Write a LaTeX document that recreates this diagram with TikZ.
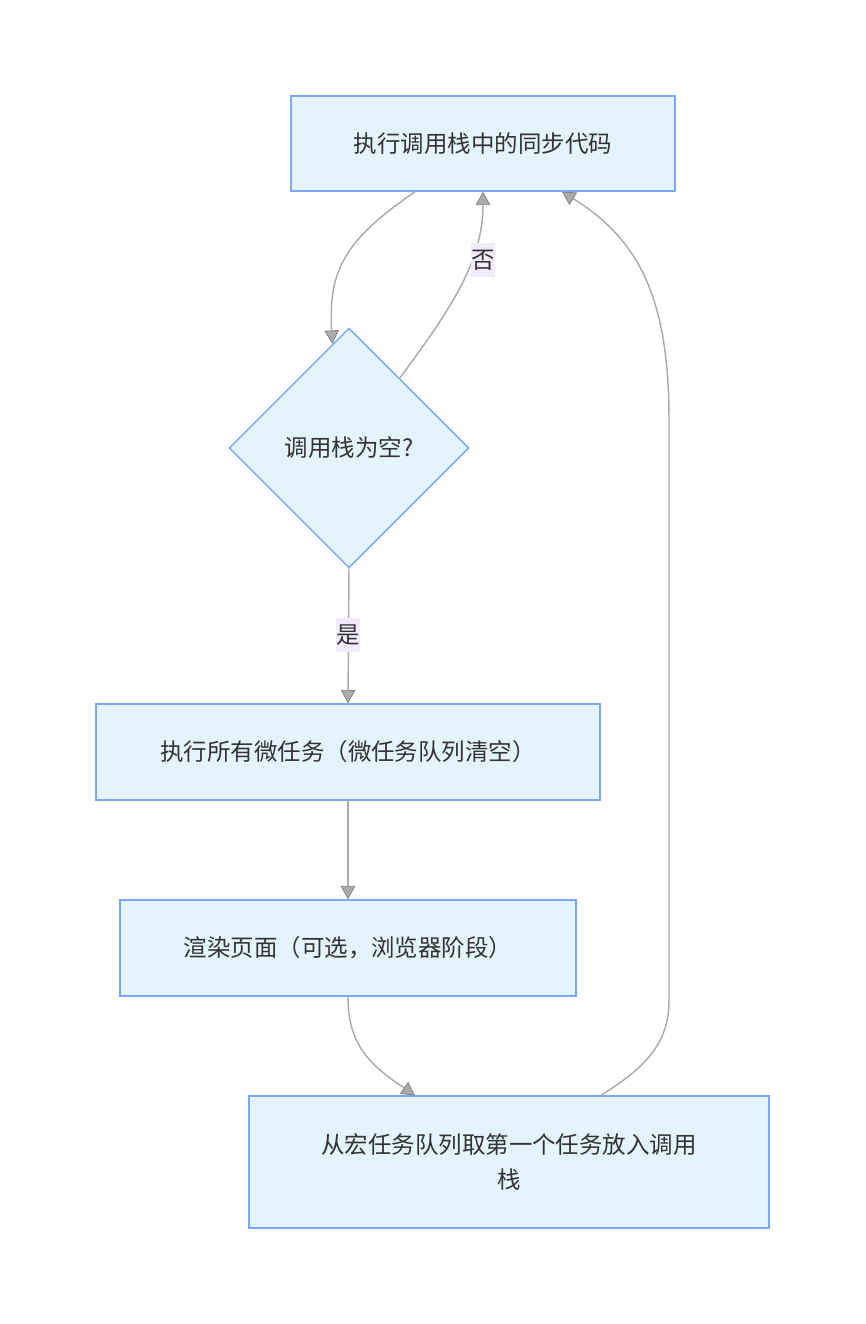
\documentclass[tikz,border=0pt]{standalone}
\usepackage{fontspec}
\setmainfont{Noto Sans CJK SC}
\usetikzlibrary{shapes.geometric,arrows.meta}
\definecolor{boxfill}{HTML}{E3F4FD}
\definecolor{boxline}{HTML}{7BA8F4}
\definecolor{lblfill}{HTML}{F1EBFB}
\definecolor{txt}{HTML}{333333}
\colorlet{edge}{black!33}

\begin{document}
\begin{tikzpicture}[x=0.75pt,y=-0.75pt,
    box/.style={draw=boxline,fill=boxfill,line width=1.1pt,text=txt,
        font=\fontsize{17.6pt}{26pt}\selectfont,inner sep=0pt,align=center},
    lbl/.style={fill=lblfill,text=txt,font=\fontsize{17.6pt}{22pt}\selectfont,
        inner xsep=0.5pt,inner ysep=5pt},
    flow/.style={draw=edge,line width=1.1pt,
        -{Triangle[length=10pt,width=11pt,color=black!48,fill=black!33,line width=0.6pt]}}]
  \useasboundingbox (0,0) rectangle (865,1324);

  \node[box,minimum width=288pt,minimum height=71.25pt] (sync) at (483,143.5) {执行调用栈中的同步代码};
  \node[box,diamond,shape aspect=1,minimum width=180pt,minimum height=180pt] (empty) at (349,448) {调用栈为空?};
  \node[box,minimum width=378pt,minimum height=72pt] (micro) at (348,752) {执行所有微任务（微任务队列清空）};
  \node[box,minimum width=342pt,minimum height=72pt] (render) at (348,948) {渲染页面（可选，浏览器阶段）};
  \node[box,minimum width=390pt,minimum height=99pt] (macro) at (509,1162) {从宏任务队列取第一个任务放入调用\\栈};

  \draw[flow] ([xshift=-51pt]sync.south) .. controls (345,240) and (328,270) .. (empty.99);
  \draw[flow] (empty.54) .. controls (450,310) and (483,262) .. (sync.south);
  \node[lbl] (no) at (483,260) {否};
  \draw[flow] (empty.south) -- (micro.north);
  \node[lbl] (yes) at (348,635) {是};
  \draw[flow] (micro.south) -- (render.north);
  \draw[flow] (render.south) .. controls (348,1045) and (370,1065) .. ([xshift=-70.5pt]macro.north);
  \draw[flow] ([xshift=69pt]macro.north) .. controls (650,1065) and (669,1040) .. (669,1000)
      -- (669,420) .. controls (669,300) and (640,240) .. ([xshift=59.25pt]sync.south);
\end{tikzpicture}
\end{document}
